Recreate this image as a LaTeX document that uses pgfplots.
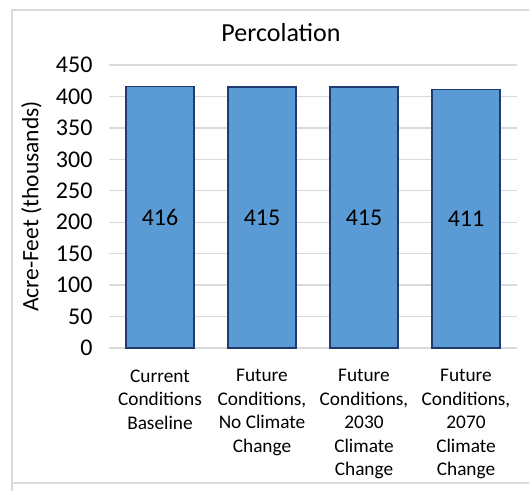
\documentclass[border=0pt]{standalone}
\usepackage{pgfplots}
\usepackage{pgfplotstable}
\pgfplotsset{compat=1.18}
\usepackage{fontspec}
\setmainfont{Carlito}
\definecolor{barblue}{HTML}{5B9BD5}
\definecolor{baredge}{HTML}{1F3A6E}
\definecolor{gridgray}{HTML}{D9D9D9}
\pgfplotstableread{
x y
0 416
1 415
2 415
3 411
}\percdata
\begin{document}
\begin{tikzpicture}[x=1pt,y=1pt]
\useasboundingbox (0,0) rectangle (529,490);
\draw[gridgray, line width=1.2pt] (12,-5) -- (12,480) -- (545,480);
\draw[gridgray, line width=1.2pt] (12,7) -- (545,7);
\begin{axis}[
  at={(109pt,142pt)}, anchor=south west,
  scale only axis, width=408pt, height=283pt,
  xmin=-0.5, xmax=3.5, ymin=0, ymax=450,
  ytick={0,50,...,450},
  xtick={0,1,2,3},
  xticklabels={{Current\\Conditions\\Baseline},{Future\\Conditions,\\No Climate\\Change},{Future\\Conditions,\\2030\\Climate\\Change},{Future\\Conditions,\\2070\\Climate\\Change}},
  axis line style={draw=none},
  major tick length=0pt,
  ymajorgrids, grid style={gridgray, line width=1.3pt},
  /pgf/number format/assume math mode=true,
  yticklabel style={font=\fontsize{24}{29}\selectfont, anchor=east, xshift=-13pt},
  xticklabel style={font=\fontsize{19.3}{23.5}\selectfont, align=center, anchor=north, yshift=-18pt},
  title={Percolation},
  title style={at={(axis description cs:0.4216,1.0636)}, anchor=base, font=\fontsize{26}{31}\selectfont},
  ylabel={Acre-Feet (thousands)},
  ylabel style={at={(axis description cs:-0.1728,0.5)}, anchor=base, rotate=0, font=\fontsize{23.5}{28}\selectfont},
  clip=false,
]
\addplot[ybar, bar width=68pt, bar shift=0pt, fill=barblue, draw=baredge, line width=1.2pt] table[x=x, y=y] {\percdata};
\addplot[draw=none, mark=none, nodes near coords={\pgfmathprintnumber[fixed,precision=0]{\pgfplotspointmeta}},
  point meta=\thisrow{y},
  every node near coord/.append style={anchor=center, font=\fontsize{24}{29}\selectfont}]
  table[x=x, y expr=\thisrow{y}/2] {\percdata};
\end{axis}
\end{tikzpicture}
\end{document}
